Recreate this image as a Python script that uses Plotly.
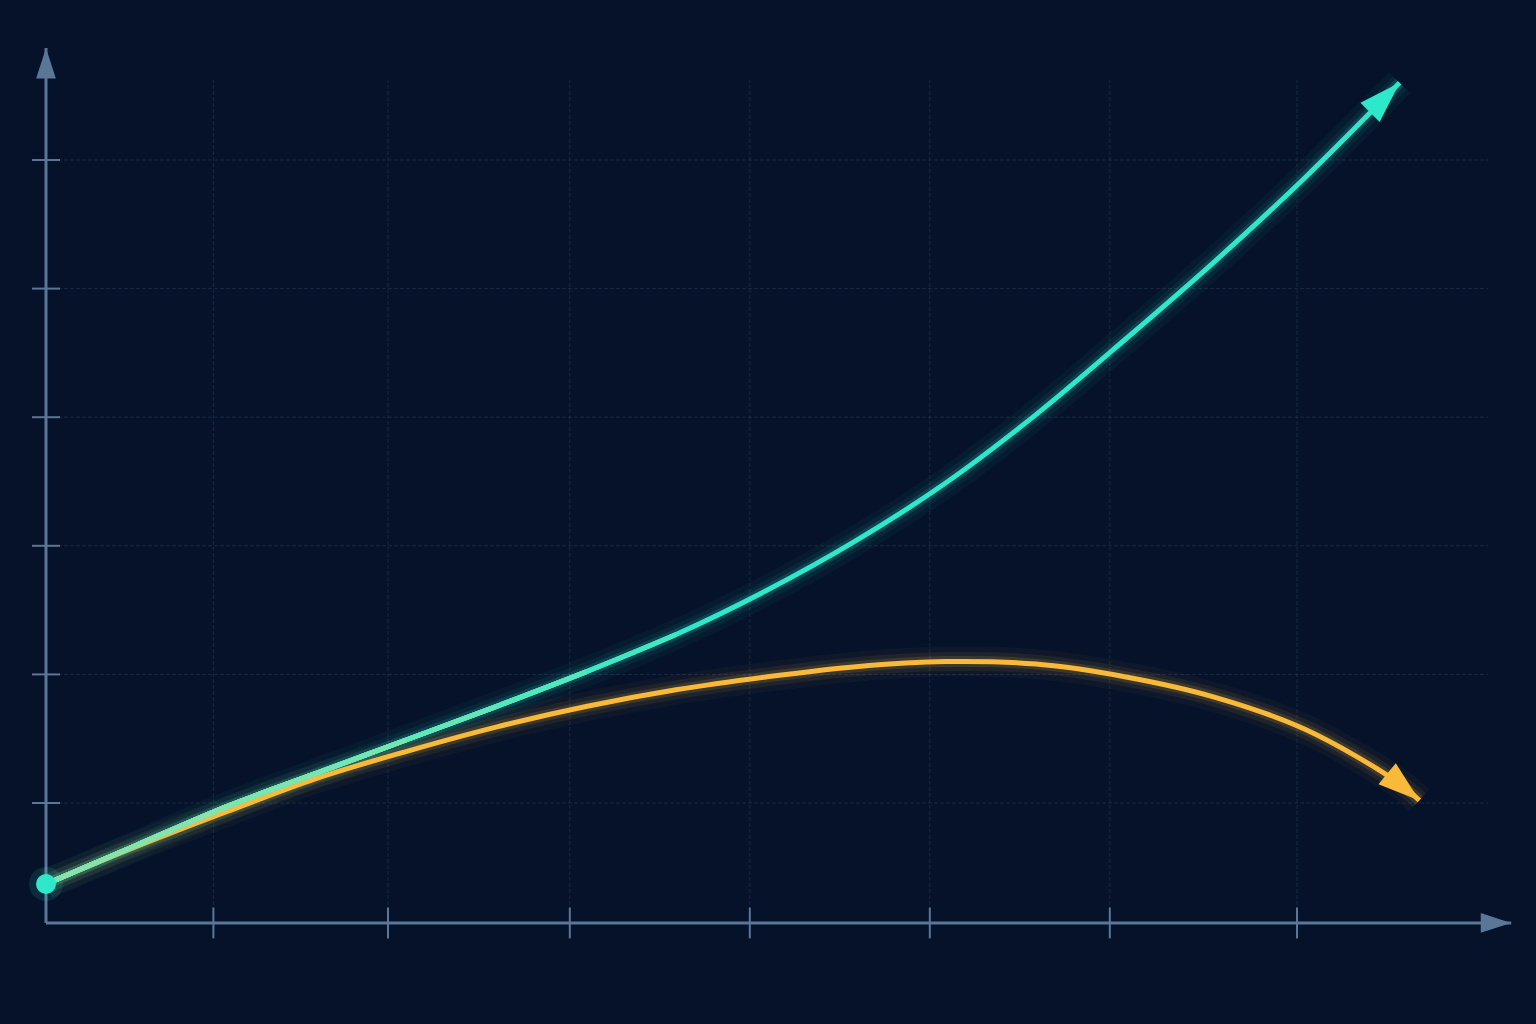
import plotly.graph_objects as go

# Values, in grid units (one unit = one grid cell)
teal_x = [0, 0.5, 1, 1.5, 2, 2.5, 3, 3.5, 4, 4.5, 5, 5.5, 6, 6.5, 7, 7.52]
teal_y = [0.37, 0.67, 0.97, 1.23, 1.49, 1.75, 2.02, 2.31, 2.65, 3.04, 3.49, 4.02, 4.61, 5.22, 5.87, 6.60]

orange_x = [0, 0.5, 1, 1.5, 2, 2.5, 3, 3.5, 4, 4.5, 5, 5.5, 6, 6.5, 7, 7.5, 7.63]
orange_y = [0.37, 0.66, 0.93, 1.19, 1.40, 1.59, 1.75, 1.88, 1.98, 2.06, 2.10, 2.08, 1.98, 1.82, 1.57, 1.17, 1.02]

x_ticks = [0.93, 1.9, 2.91, 3.91, 4.91, 5.91, 6.95]
y_ticks = [1, 2, 3, 4, 5, 6]

# axis extents
x_axis_y = 0.067
x_axis_end = 8.14
y_axis_end = 6.87
grid_x_end = 8.01
grid_y_end = 6.62

BG = "#05122a"
AXIS = "#5a7797"
GRID = "rgba(95,125,160,0.22)"
TEAL = "#2ee8cb"
ORANGE = "#f9b93a"

fig = go.Figure()

# grid lines
gx, gy = [], []
for t in x_ticks:
    gx += [t, t, None]
    gy += [x_axis_y, grid_y_end, None]
for t in y_ticks:
    gx += [0, grid_x_end, None]
    gy += [t, t, None]
fig.add_trace(go.Scatter(x=gx, y=gy, mode="lines",
                         line=dict(color=GRID, width=1, dash="4px,2px")))


def arrow_head(x, y, color, size):
    # filled arrow on the last point, pointing along the last segment
    fig.add_trace(go.Scatter(x=x[-2:], y=y[-2:], mode="markers",
                             marker=dict(symbol="arrow", angleref="previous", size=[0, size],
                                         color=color, opacity=1, line=dict(width=0))))


# axes with arrow heads
ax_x = [0, x_axis_end]
ax_y = [x_axis_y, x_axis_y]
ay_x = [0, 0]
ay_y = [x_axis_y, y_axis_end]
for xs, ys in [(ax_x, ax_y), (ay_x, ay_y)]:
    fig.add_trace(go.Scatter(x=xs, y=ys, mode="lines",
                             line=dict(color=AXIS, width=3, backoff=18)))
    arrow_head(xs, ys, AXIS, 32)

# tick marks
fig.add_trace(go.Scatter(x=x_ticks, y=[x_axis_y] * len(x_ticks), mode="markers",
                         marker=dict(symbol="line-ns", size=22, line=dict(color=AXIS, width=2))))
fig.add_trace(go.Scatter(x=[0] * len(y_ticks), y=y_ticks, mode="markers",
                         marker=dict(symbol="line-ew", size=20, line=dict(color=AXIS, width=2))))


def glow(x, y, rgb):
    for w, a in [(30, 0.04), (19, 0.07), (11, 0.14)]:
        fig.add_trace(go.Scatter(x=x, y=y, mode="lines", line_shape="spline",
                                 line=dict(color=f"rgba({rgb},{a})", width=w, backoff=12)))


glow(orange_x, orange_y, "249,185,58")
glow(teal_x, teal_y, "46,232,203")

# orange curve
fig.add_trace(go.Scatter(x=orange_x, y=orange_y, mode="lines", line_shape="spline",
                         line=dict(color=ORANGE, width=5, backoff=26)))
arrow_head(orange_x, orange_y, ORANGE, 44)

# teal curve
fig.add_trace(go.Scatter(x=teal_x, y=teal_y, mode="lines", line_shape="spline",
                         line=dict(color=TEAL, width=5, backoff=26)))
arrow_head(teal_x, teal_y, TEAL, 44)

# greener tint of the teal curve near the start
for k, c in [(8, "#40e8c4"), (7, "#52e8be"), (6, "#64e7b8"), (5, "#72e6b3"), (4, "#7ee4ae"), (3, "#88e2aa")]:
    fig.add_trace(go.Scatter(x=teal_x[:k], y=teal_y[:k], mode="lines", line_shape="spline",
                             line=dict(color=c, width=5)))

# start point
fig.add_trace(go.Scatter(x=[teal_x[0]], y=[teal_y[0]], mode="markers",
                         marker=dict(size=34, color="rgba(46,232,203,0.12)")))
fig.add_trace(go.Scatter(x=[teal_x[0]], y=[teal_y[0]], mode="markers",
                         marker=dict(size=20, color=TEAL)))

fig.update_layout(
    width=1536, height=1024,
    margin=dict(l=0, r=0, t=0, b=0),
    paper_bgcolor=BG, plot_bgcolor=BG,
    showlegend=False,
    hovermode=False,
    xaxis=dict(range=[-46 / 180, 1490 / 180], visible=False, fixedrange=True),
    yaxis=dict(range=[1 - 221 / 128.6, 1 + 803 / 128.6], visible=False, fixedrange=True),
)

fig.write_html("out.html", config={"displayModeBar": False},
               post_script="document.body.style.margin='0px';document.body.style.overflow='hidden';")
